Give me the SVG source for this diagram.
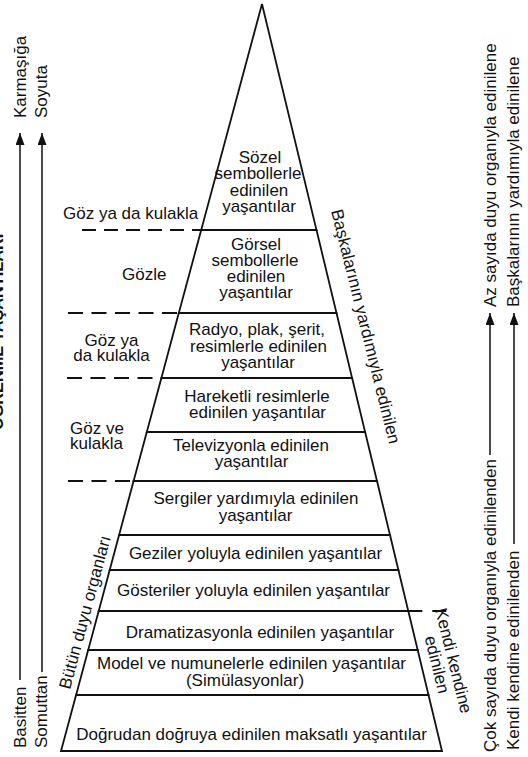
<svg xmlns="http://www.w3.org/2000/svg" width="528" height="757" viewBox="0 0 528 757">
<defs>
<style>
.t{font-family:"Liberation Sans",Arial,sans-serif;font-size:17px;fill:#111}
.c{text-anchor:middle}
.lvl{fill:#fff;stroke:#111;stroke-width:1.8;stroke-linejoin:miter}
.dash{fill:none;stroke:#111;stroke-width:1.8;stroke-dasharray:15 8.5}
.arr{fill:none;stroke:#111;stroke-width:1.5;marker-end:url(#ah)}
.title{font-family:"Liberation Sans",Arial,sans-serif;font-size:16.3px;font-weight:bold;fill:#111}
</style>
<marker id="ah" markerUnits="userSpaceOnUse" markerWidth="12" markerHeight="9" refX="12" refY="4.5" orient="auto">
<path d="M0,0 L12,4.5 L0,9 Z" fill="#111"/>
</marker>
</defs>
<rect width="528" height="757" fill="#fff"/>

<text class="title" transform="translate(3,430) rotate(-90)">ÖĞRENME YAŞANTILARI</text>

<g id="level-sozel">
<polygon class="lvl" points="262,4 316.5,230 201.2,230"/>
<text class="t c" x="260" y="162.5">Sözel</text>
<text class="t c" x="258" y="179">sembollerle</text>
<text class="t c" x="259" y="195.5">edinilen</text>
<text class="t c" x="259" y="212">yaşantılar</text>
</g>
<g id="level-gorsel">
<polygon class="lvl" points="201.2,230 316.5,230 336.5,313 178.8,313"/>
<text class="t c" x="256" y="249.5">Görsel</text>
<text class="t c" x="255" y="265.5">sembollerle</text>
<text class="t c" x="256" y="281.5">edinilen</text>
<text class="t c" x="256" y="297.5">yaşantılar</text>
</g>
<g id="level-radyo">
<polygon class="lvl" points="178.8,313 336.5,313 352.1,378 161.4,378"/>
<text class="t c" x="257" y="335">Radyo, plak, şerit,</text>
<text class="t c" x="258.5" y="351.5">resimlerle edinilen</text>
<text class="t c" x="258" y="367.5">yaşantılar</text>
</g>
<g id="level-hareketli">
<polygon class="lvl" points="161.4,378 352.1,378 365.1,432 146.8,432"/>
<text class="t c" x="257" y="401.5">Hareketli resimlerle</text>
<text class="t c" x="257.5" y="418">edinilen yaşantılar</text>
</g>
<g id="level-televizyon">
<polygon class="lvl" points="146.8,432 365.1,432 377,481 133.6,481"/>
<text class="t c" x="251" y="451">Televizyonla edinilen</text>
<text class="t c" x="251.5" y="467">yaşantılar</text>
</g>
<g id="level-sergiler">
<polygon class="lvl" points="133.6,481 377,481 390,535 119.1,535"/>
<text class="t c" x="256" y="504">Sergiler yardımıyla edinilen</text>
<text class="t c" x="255.5" y="520.5">yaşantılar</text>
</g>
<g id="level-geziler">
<polygon class="lvl" points="119.1,535 390,535 398.4,570 109.7,570"/>
<text class="t c" x="255.5" y="559">Geziler yoluyla edinilen yaşantılar</text>
</g>
<g id="level-gosteriler">
<polygon class="lvl" points="109.7,570 398.4,570 408.3,611 98.7,611"/>
<text class="t c" x="253.5" y="596">Gösteriler yoluyla edinilen yaşantılar</text>
</g>
<g id="level-dramatizasyon">
<polygon class="lvl" points="98.7,611 408.3,611 417.7,650 88.2,650"/>
<text class="t c" x="260" y="638">Dramatizasyonla edinilen yaşantılar</text>
</g>
<g id="level-model">
<polygon class="lvl" points="88.2,650 417.7,650 428.5,695 76.1,695"/>
<text class="t c" x="251.5" y="669">Model ve numunelerle edinilen yaşantılar</text>
<text class="t c" x="245" y="685.5">(Simülasyonlar)</text>
</g>
<g id="level-dogrudan">
<polygon class="lvl" points="76.1,695 428.5,695 442,751 61,751"/>
<text class="t c" x="251.5" y="740">Doğrudan doğruya edinilen maksatlı yaşantılar</text>
</g>

<g id="sense-labels">
<text class="t" x="63" y="219">Göz ya da kulakla</text>
<text class="t" x="122" y="280">Gözle</text>
<text class="t c" x="111.5" y="345.5">Göz ya</text>
<text class="t c" x="111.5" y="361">da kulakla</text>
<text class="t" x="70" y="433.5">Göz ve</text>
<text class="t" x="70" y="449">kulakla</text>
<text class="t" transform="translate(70,690) rotate(-75)">Bütün duyu organları</text>
<text class="t" transform="translate(331,211) rotate(76)">Başkalarının yardımıyla edinilen</text>
<text class="t c" transform="translate(448,662) rotate(76)">Kendi kendine</text>
<text class="t c" transform="translate(431.5,666) rotate(76)">edinilen</text>
</g>

<g id="axis-labels">
<text class="t" transform="translate(26,118) rotate(-90)">Karmaşığa</text>
<text class="t" transform="translate(47,118) rotate(-90)">Soyuta</text>
<text class="t" transform="translate(26,748) rotate(-90)">Basitten</text>
<text class="t" transform="translate(47,748) rotate(-90)">Somuttan</text>
<text class="t" transform="translate(496,307) rotate(-90)">Az sayıda duyu organıyla edinilene</text>
<text class="t" transform="translate(519,307) rotate(-90)">Başkalarının yardımıyla edinilene</text>
<text class="t" transform="translate(496,752) rotate(-90)">Çok sayıda duyu organıyla  edinilenden</text>
<text class="t" transform="translate(519,750) rotate(-90)">Kendi kendine edinilenden</text>
</g>

<g id="connectors">
<line class="dash" x1="82" y1="230" x2="201.2" y2="230" style="stroke-dasharray:14 8"/>
<line class="dash" x1="68" y1="313" x2="178.8" y2="313"/>
<line class="dash" x1="67" y1="378" x2="161.4" y2="378"/>
<line class="dash" x1="68" y1="481" x2="133.6" y2="481"/>
<line class="dash" x1="408.3" y1="611" x2="449" y2="611" style="stroke-dasharray:14 10"/>
<line class="arr" x1="20" y1="680" x2="20" y2="133"/>
<line class="arr" x1="42" y1="672" x2="42" y2="133"/>
<line class="arr" x1="490" y1="455" x2="490" y2="313"/>
<line class="arr" x1="514" y1="544" x2="514" y2="313"/>
</g>
</svg>
